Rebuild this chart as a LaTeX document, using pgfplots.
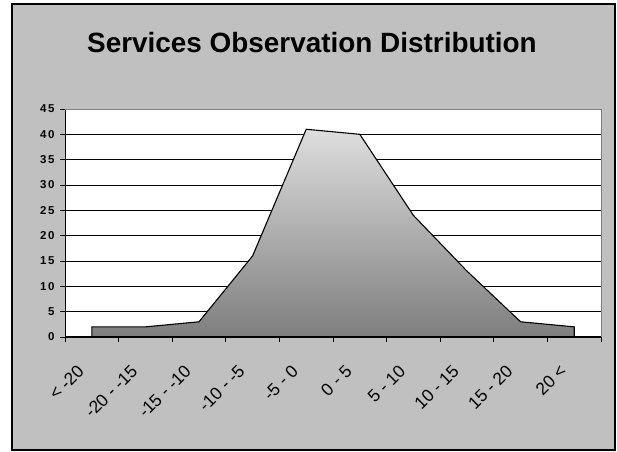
\documentclass[border=0pt]{standalone}
\usepackage{fontspec}
\setmainfont{Liberation Sans}
\newfontfamily\ylabfont[LetterSpace=14]{Liberation Sans}
\usepackage{pgfplots}
\pgfplotsset{compat=1.18}
\definecolor{bggray}{HTML}{C0C0C0}
\definecolor{topc}{HTML}{DEDEDE}
\definecolor{botc}{HTML}{7E7E7E}
\definecolor{edgegray}{HTML}{808080}
\begin{document}
\begin{tikzpicture}[x=1bp,y=1bp]
\path[fill=white] (0,0) rectangle (617,452);
\draw[fill=bggray, draw=black, line width=1.5bp] (12,2) rectangle (615,448);
\node[anchor=base, font=\fontsize{28}{32}\selectfont\bfseries, inner sep=0pt] at (312,399.5) {Services Observation Distribution};
\begin{axis}[
  at={(65bp,115bp)}, anchor=south west,
  scale only axis, width=536bp, height=228bp,
  xmin=-0.5, xmax=9.5, ymin=0, ymax=45,
  axis x line*=bottom, axis y line*=left,
  x axis line style={line width=1.4bp, black, -},
  y axis line style={line width=0.7bp, black, -},
  axis background/.style={fill=white},
  xtick={0,...,9},
  xticklabels={{< -20},{-20 - -15},{-15 - -10},{-10 - -5},{-5 - 0},{0 - 5},{5 - 10},{10 - 15},{15 - 20},{20 <}},
  major x tick style={draw=none},
  minor xtick={-0.5,0.5,...,9.5},
  minor x tick style={black, line width=0.7bp},
  minor tick length=5bp,
  ytick={0,5,...,45},
  major tick length=5bp,
  tick align=outside,
  ytick style={black, line width=0.7bp},
  ymajorgrids,
  grid style={black, line width=0.7bp},
  /pgf/number format/assume math mode=true,
  yticklabel style={font=\fontsize{11.5}{12}\selectfont\ylabfont\bfseries, xshift=-2bp},
  xticklabel style={xshift=-11bp, yshift=-26bp, rotate=45, anchor=east, inner sep=0pt, font=\fontsize{17.5}{19}\selectfont},
  clip=false,
]
\addplot[draw=black, line width=1.1bp, shade, top color=topc, bottom color=botc] coordinates {
(0,2) (1,2) (2,3) (3,16) (4,41) (5,40) (6,24) (7,13) (8,3) (9,2)
} \closedcycle;
\draw[edgegray, line width=0.8bp] (axis cs:-0.5,45) -- (axis cs:9.5,45) -- (axis cs:9.5,0);
\draw[black, line width=1.4bp] (axis cs:-0.5,0) -- (axis cs:9.5,0);
\end{axis}
\end{tikzpicture}
\end{document}
